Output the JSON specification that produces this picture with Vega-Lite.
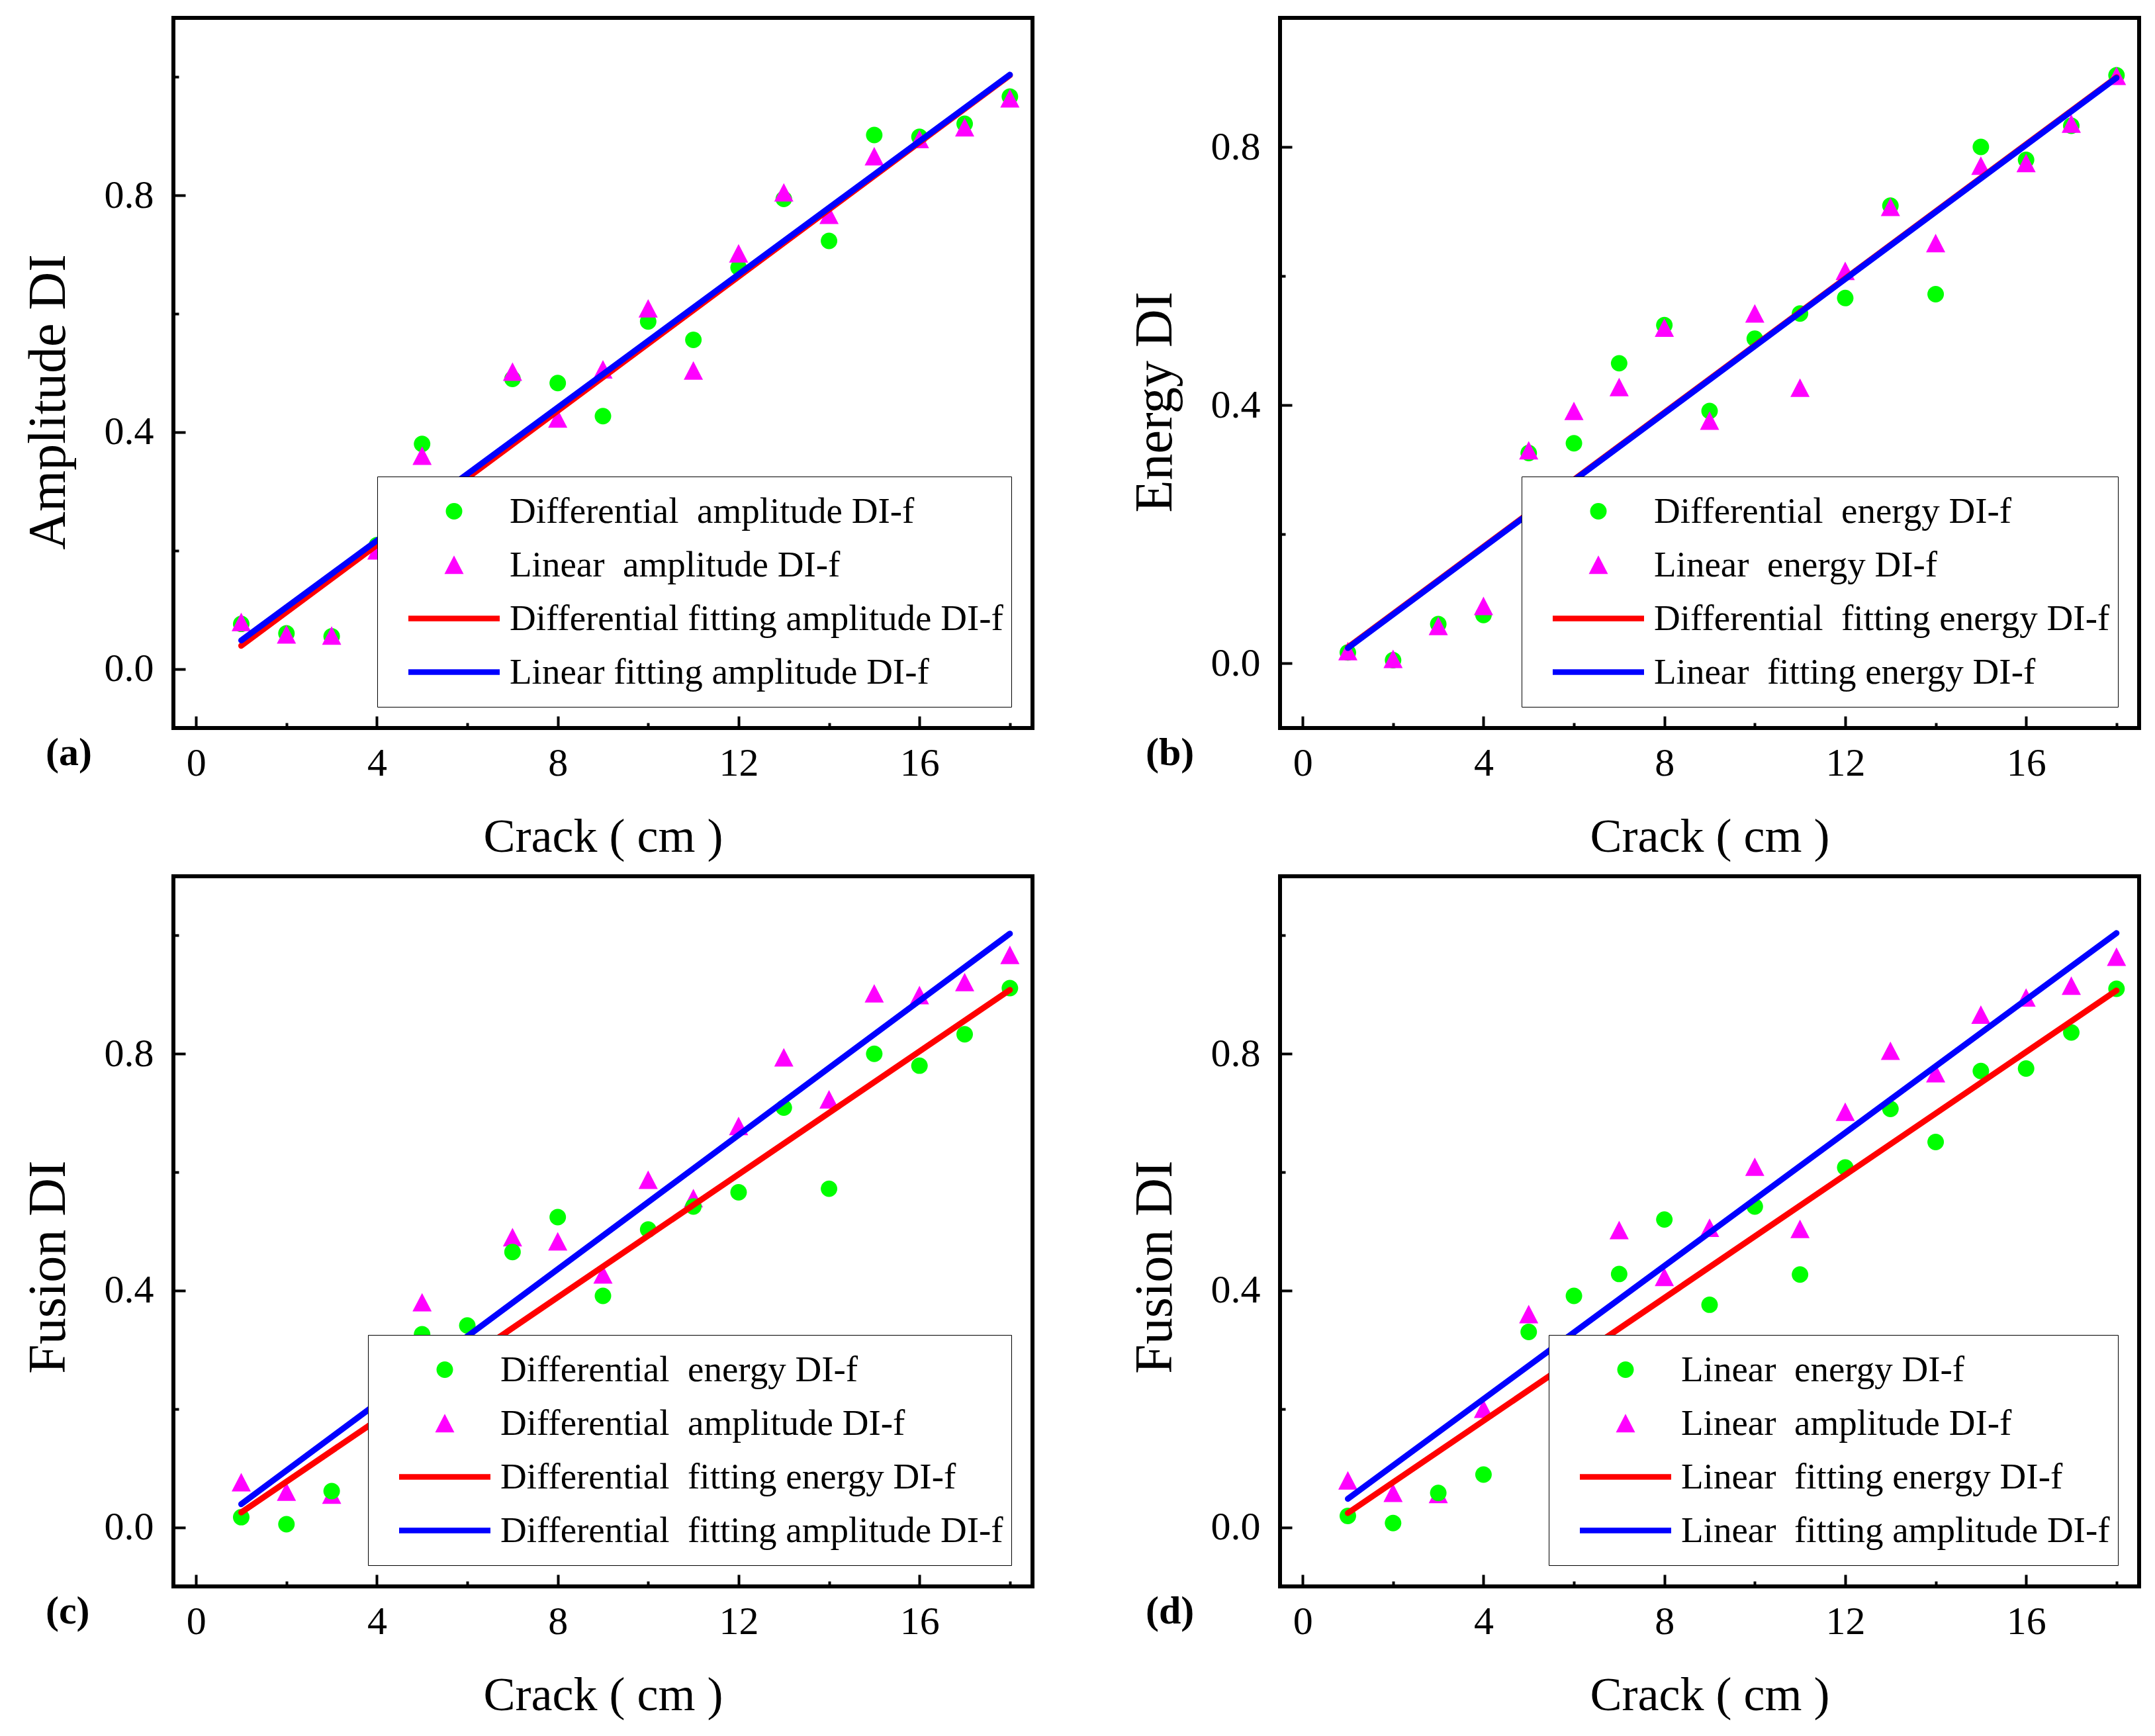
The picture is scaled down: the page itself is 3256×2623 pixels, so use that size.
{
  "$schema": "https://vega.github.io/schema/vega-lite/v6.json",
  "padding": {"left": 30, "top": 24, "right": 10, "bottom": 10},
  "datasets": {
    "pts": [
      {"s": "DA", "crack": 1, "di": 0.076}, {"s": "DA", "crack": 2, "di": 0.06}, {"s": "DA", "crack": 3, "di": 0.055},
      {"s": "DA", "crack": 4, "di": 0.209}, {"s": "DA", "crack": 5, "di": 0.38}, {"s": "DA", "crack": 6, "di": 0.27},
      {"s": "DA", "crack": 7, "di": 0.49}, {"s": "DA", "crack": 8, "di": 0.483}, {"s": "DA", "crack": 9, "di": 0.427},
      {"s": "DA", "crack": 10, "di": 0.587}, {"s": "DA", "crack": 11, "di": 0.556}, {"s": "DA", "crack": 12, "di": 0.678},
      {"s": "DA", "crack": 13, "di": 0.794}, {"s": "DA", "crack": 14, "di": 0.723}, {"s": "DA", "crack": 15, "di": 0.902},
      {"s": "DA", "crack": 16, "di": 0.899}, {"s": "DA", "crack": 17, "di": 0.921}, {"s": "DA", "crack": 18, "di": 0.967},
      {"s": "LA", "crack": 1, "di": 0.079}, {"s": "LA", "crack": 2, "di": 0.058}, {"s": "LA", "crack": 3, "di": 0.056},
      {"s": "LA", "crack": 4, "di": 0.2}, {"s": "LA", "crack": 5, "di": 0.36}, {"s": "LA", "crack": 6, "di": 0.312},
      {"s": "LA", "crack": 7, "di": 0.502}, {"s": "LA", "crack": 8, "di": 0.423}, {"s": "LA", "crack": 9, "di": 0.506},
      {"s": "LA", "crack": 10, "di": 0.609}, {"s": "LA", "crack": 11, "di": 0.504}, {"s": "LA", "crack": 12, "di": 0.702},
      {"s": "LA", "crack": 13, "di": 0.805}, {"s": "LA", "crack": 14, "di": 0.767}, {"s": "LA", "crack": 15, "di": 0.866},
      {"s": "LA", "crack": 16, "di": 0.895}, {"s": "LA", "crack": 17, "di": 0.915}, {"s": "LA", "crack": 18, "di": 0.964},
      {"s": "DE", "crack": 1, "di": 0.017}, {"s": "DE", "crack": 2, "di": 0.005}, {"s": "DE", "crack": 3, "di": 0.061},
      {"s": "DE", "crack": 4, "di": 0.075}, {"s": "DE", "crack": 5, "di": 0.326}, {"s": "DE", "crack": 6, "di": 0.341},
      {"s": "DE", "crack": 7, "di": 0.465}, {"s": "DE", "crack": 8, "di": 0.524}, {"s": "DE", "crack": 9, "di": 0.391},
      {"s": "DE", "crack": 10, "di": 0.503}, {"s": "DE", "crack": 11, "di": 0.542}, {"s": "DE", "crack": 12, "di": 0.566},
      {"s": "DE", "crack": 13, "di": 0.709}, {"s": "DE", "crack": 14, "di": 0.572}, {"s": "DE", "crack": 15, "di": 0.8},
      {"s": "DE", "crack": 16, "di": 0.78}, {"s": "DE", "crack": 17, "di": 0.833}, {"s": "DE", "crack": 18, "di": 0.911},
      {"s": "LE", "crack": 1, "di": 0.019}, {"s": "LE", "crack": 2, "di": 0.007}, {"s": "LE", "crack": 3, "di": 0.058},
      {"s": "LE", "crack": 4, "di": 0.089}, {"s": "LE", "crack": 5, "di": 0.33}, {"s": "LE", "crack": 6, "di": 0.391},
      {"s": "LE", "crack": 7, "di": 0.428}, {"s": "LE", "crack": 8, "di": 0.52}, {"s": "LE", "crack": 9, "di": 0.376},
      {"s": "LE", "crack": 10, "di": 0.542}, {"s": "LE", "crack": 11, "di": 0.427}, {"s": "LE", "crack": 12, "di": 0.608},
      {"s": "LE", "crack": 13, "di": 0.707}, {"s": "LE", "crack": 14, "di": 0.651}, {"s": "LE", "crack": 15, "di": 0.771},
      {"s": "LE", "crack": 16, "di": 0.775}, {"s": "LE", "crack": 17, "di": 0.836}, {"s": "LE", "crack": 18, "di": 0.91}
    ],
    "fits": [
      {"s": "FDA", "crack": 1, "di": 0.039}, {"s": "FDA", "crack": 18, "di": 1.003},
      {"s": "FLA", "crack": 1, "di": 0.048}, {"s": "FLA", "crack": 18, "di": 1.004},
      {"s": "FDE", "crack": 1, "di": 0.025}, {"s": "FDE", "crack": 18, "di": 0.908},
      {"s": "FLE", "crack": 1, "di": 0.024}, {"s": "FLE", "crack": 18, "di": 0.907}
    ]
  },
  "columns": 2,
  "spacing": {"row": 18, "column": 139},
  "resolve": {
    "scale": {"color": "independent", "shape": "independent", "x": "independent", "y": "independent"},
    "legend": {"color": "independent", "shape": "independent"}
  },
  "concat": [
    {
      "width": 1298,
      "height": 1073,
      "title": {"text": "(a)", "dx": -193},
      "resolve": {"axis": {"x": "independent", "y": "independent"}},
      "layer": [
        {
          "data": {"name": "pts"},
          "transform": [{"filter": {"field": "s", "oneOf": ["DA", "LA"]}}],
          "mark": {"type": "point", "filled": true, "opacity": 1, "size": 19044, "strokeWidth": 0},
          "encoding": {
            "x": {"field": "crack", "type": "quantitative", "scale": {"domain": [-0.5, 18.5], "nice": false, "zero": false},
              "axis": {"orient": "bottom", "values": [0, 4, 8, 12, 16], "format": "d", "tickSize": -18, "labelPadding": 42, "title": "Crack ( cm )", "titlePadding": 46}},
            "y": {"field": "di", "type": "quantitative", "scale": {"domain": [-0.1, 1.1], "nice": false, "zero": false},
              "axis": {"orient": "left", "values": [0, 0.4, 0.8], "format": ".1f", "tickSize": -18, "labelPadding": 48, "title": "Amplitude DI", "titlePadding": 43, "titleY": 580}},
            "color": {"field": "s", "type": "nominal",
              "scale": {"domain": ["DA", "LA", "FDA", "FLA"], "range": ["#00ff00", "#ff00ff", "#ff0000", "#0000ff"]},
              "legend": {"labelExpr": "{'DA': 'Differential\u00a0 amplitude DI-f', 'LA': 'Linear\u00a0 amplitude DI-f', 'FDA': 'Differential fitting amplitude DI-f', 'FLA': 'Linear fitting amplitude DI-f'}[datum.label]"}},
            "shape": {"field": "s", "type": "nominal",
              "scale": {"domain": ["DA", "LA", "FDA", "FLA"], "range": [
                "M0.181,0C0.181,0.1,0.1,0.181,0,0.181C-0.1,0.181,-0.181,0.1,-0.181,0C-0.181,-0.1,-0.1,-0.181,0,-0.181C0.1,-0.181,0.181,-0.1,0.181,0Z",
                "M0,-0.205L0.21,0.2L-0.21,0.2Z",
                "M-1,-0.06L1,-0.06L1,0.06L-1,0.06Z",
                "M-1,-0.06L1,-0.06L1,0.06L-1,0.06Z"]}}
          }
        },
        {
          "data": {"name": "fits"},
          "transform": [{"filter": {"field": "s", "oneOf": ["FDA", "FLA"]}}],
          "mark": {"type": "line", "strokeWidth": 9, "strokeCap": "round"},
          "encoding": {
            "x": {"field": "crack", "type": "quantitative", "axis": {"orient": "bottom", "values": [2, 6, 10, 14, 18], "tickSize": -8, "labels": false, "title": null}},
            "y": {"field": "di", "type": "quantitative", "axis": {"orient": "left", "values": [0.2, 0.6, 1.0], "tickSize": -8, "labels": false, "title": null}},
            "color": {"field": "s", "type": "nominal"}
          }
        }
      ]
    },
    {
      "width": 1298,
      "height": 1073,
      "title": {"text": "(b)", "dx": -203},
      "resolve": {"axis": {"x": "independent", "y": "independent"}},
      "layer": [
        {
          "data": {"name": "pts"},
          "transform": [{"filter": {"field": "s", "oneOf": ["DE", "LE"]}}],
          "mark": {"type": "point", "filled": true, "opacity": 1, "size": 19044, "strokeWidth": 0},
          "encoding": {
            "x": {"field": "crack", "type": "quantitative", "scale": {"domain": [-0.5, 18.5], "nice": false, "zero": false},
              "axis": {"orient": "bottom", "values": [0, 4, 8, 12, 16], "format": "d", "tickSize": -18, "labelPadding": 42, "title": "Crack ( cm )", "titlePadding": 46}},
            "y": {"field": "di", "type": "quantitative", "scale": {"domain": [-0.1, 1.0], "nice": false, "zero": false},
              "axis": {"orient": "left", "values": [0, 0.4, 0.8], "format": ".1f", "tickSize": -18, "labelPadding": 48, "title": "Energy DI", "titlePadding": 43, "titleY": 580}},
            "color": {"field": "s", "type": "nominal",
              "scale": {"domain": ["DE", "LE", "FDE", "FLE"], "range": ["#00ff00", "#ff00ff", "#ff0000", "#0000ff"]},
              "legend": {"labelExpr": "{'DE': 'Differential\u00a0 energy DI-f', 'LE': 'Linear\u00a0 energy DI-f', 'FDE': 'Differential\u00a0 fitting energy DI-f', 'FLE': 'Linear\u00a0 fitting energy DI-f'}[datum.label]"}},
            "shape": {"field": "s", "type": "nominal",
              "scale": {"domain": ["DE", "LE", "FDE", "FLE"], "range": [
                "M0.181,0C0.181,0.1,0.1,0.181,0,0.181C-0.1,0.181,-0.181,0.1,-0.181,0C-0.181,-0.1,-0.1,-0.181,0,-0.181C0.1,-0.181,0.181,-0.1,0.181,0Z",
                "M0,-0.205L0.21,0.2L-0.21,0.2Z",
                "M-1,-0.06L1,-0.06L1,0.06L-1,0.06Z",
                "M-1,-0.06L1,-0.06L1,0.06L-1,0.06Z"]}}
          }
        },
        {
          "data": {"name": "fits"},
          "transform": [{"filter": {"field": "s", "oneOf": ["FDE", "FLE"]}}],
          "mark": {"type": "line", "strokeWidth": 9, "strokeCap": "round"},
          "encoding": {
            "x": {"field": "crack", "type": "quantitative", "axis": {"orient": "bottom", "values": [2, 6, 10, 14, 18], "tickSize": -8, "labels": false, "title": null}},
            "y": {"field": "di", "type": "quantitative", "axis": {"orient": "left", "values": [0.2, 0.6], "tickSize": -8, "labels": false, "title": null}},
            "color": {"field": "s", "type": "nominal"}
          }
        }
      ]
    },
    {
      "width": 1298,
      "height": 1073,
      "title": {"text": "(c)", "dx": -193},
      "resolve": {"axis": {"x": "independent", "y": "independent"}},
      "layer": [
        {
          "data": {"name": "pts"},
          "transform": [{"filter": {"field": "s", "oneOf": ["DE", "DA"]}}],
          "mark": {"type": "point", "filled": true, "opacity": 1, "size": 19044, "strokeWidth": 0},
          "encoding": {
            "x": {"field": "crack", "type": "quantitative", "scale": {"domain": [-0.5, 18.5], "nice": false, "zero": false},
              "axis": {"orient": "bottom", "values": [0, 4, 8, 12, 16], "format": "d", "tickSize": -18, "labelPadding": 42, "title": "Crack ( cm )", "titlePadding": 46}},
            "y": {"field": "di", "type": "quantitative", "scale": {"domain": [-0.1, 1.1], "nice": false, "zero": false},
              "axis": {"orient": "left", "values": [0, 0.4, 0.8], "format": ".1f", "tickSize": -18, "labelPadding": 48, "title": "Fusion DI", "titlePadding": 43, "titleY": 590}},
            "color": {"field": "s", "type": "nominal",
              "scale": {"domain": ["DE", "DA", "FDE", "FDA"], "range": ["#00ff00", "#ff00ff", "#ff0000", "#0000ff"]},
              "legend": {"labelExpr": "{'DE': 'Differential\u00a0 energy DI-f', 'DA': 'Differential\u00a0 amplitude DI-f', 'FDE': 'Differential\u00a0 fitting energy DI-f', 'FDA': 'Differential\u00a0 fitting amplitude DI-f'}[datum.label]"}},
            "shape": {"field": "s", "type": "nominal",
              "scale": {"domain": ["DE", "DA", "FDE", "FDA"], "range": [
                "M0.181,0C0.181,0.1,0.1,0.181,0,0.181C-0.1,0.181,-0.181,0.1,-0.181,0C-0.181,-0.1,-0.1,-0.181,0,-0.181C0.1,-0.181,0.181,-0.1,0.181,0Z",
                "M0,-0.205L0.21,0.2L-0.21,0.2Z",
                "M-1,-0.06L1,-0.06L1,0.06L-1,0.06Z",
                "M-1,-0.06L1,-0.06L1,0.06L-1,0.06Z"]}}
          }
        },
        {
          "data": {"name": "fits"},
          "transform": [{"filter": {"field": "s", "oneOf": ["FDE", "FDA"]}}],
          "mark": {"type": "line", "strokeWidth": 9, "strokeCap": "round"},
          "encoding": {
            "x": {"field": "crack", "type": "quantitative", "axis": {"orient": "bottom", "values": [2, 6, 10, 14, 18], "tickSize": -8, "labels": false, "title": null}},
            "y": {"field": "di", "type": "quantitative", "axis": {"orient": "left", "values": [0.2, 0.6, 1.0], "tickSize": -8, "labels": false, "title": null}},
            "color": {"field": "s", "type": "nominal"}
          }
        }
      ]
    },
    {
      "width": 1298,
      "height": 1073,
      "title": {"text": "(d)", "dx": -203},
      "resolve": {"axis": {"x": "independent", "y": "independent"}},
      "layer": [
        {
          "data": {"name": "pts"},
          "transform": [{"filter": {"field": "s", "oneOf": ["LE", "LA"]}}],
          "mark": {"type": "point", "filled": true, "opacity": 1, "size": 19044, "strokeWidth": 0},
          "encoding": {
            "x": {"field": "crack", "type": "quantitative", "scale": {"domain": [-0.5, 18.5], "nice": false, "zero": false},
              "axis": {"orient": "bottom", "values": [0, 4, 8, 12, 16], "format": "d", "tickSize": -18, "labelPadding": 42, "title": "Crack ( cm )", "titlePadding": 46}},
            "y": {"field": "di", "type": "quantitative", "scale": {"domain": [-0.1, 1.1], "nice": false, "zero": false},
              "axis": {"orient": "left", "values": [0, 0.4, 0.8], "format": ".1f", "tickSize": -18, "labelPadding": 48, "title": "Fusion DI", "titlePadding": 43, "titleY": 590}},
            "color": {"field": "s", "type": "nominal",
              "scale": {"domain": ["LE", "LA", "FLE", "FLA"], "range": ["#00ff00", "#ff00ff", "#ff0000", "#0000ff"]},
              "legend": {"labelExpr": "{'LE': 'Linear\u00a0 energy DI-f', 'LA': 'Linear\u00a0 amplitude DI-f', 'FLE': 'Linear\u00a0 fitting energy DI-f', 'FLA': 'Linear\u00a0 fitting amplitude DI-f'}[datum.label]"}},
            "shape": {"field": "s", "type": "nominal",
              "scale": {"domain": ["LE", "LA", "FLE", "FLA"], "range": [
                "M0.181,0C0.181,0.1,0.1,0.181,0,0.181C-0.1,0.181,-0.181,0.1,-0.181,0C-0.181,-0.1,-0.1,-0.181,0,-0.181C0.1,-0.181,0.181,-0.1,0.181,0Z",
                "M0,-0.205L0.21,0.2L-0.21,0.2Z",
                "M-1,-0.06L1,-0.06L1,0.06L-1,0.06Z",
                "M-1,-0.06L1,-0.06L1,0.06L-1,0.06Z"]}}
          }
        },
        {
          "data": {"name": "fits"},
          "transform": [{"filter": {"field": "s", "oneOf": ["FLE", "FLA"]}}],
          "mark": {"type": "line", "strokeWidth": 9, "strokeCap": "round"},
          "encoding": {
            "x": {"field": "crack", "type": "quantitative", "axis": {"orient": "bottom", "values": [2, 6, 10, 14, 18], "tickSize": -8, "labels": false, "title": null}},
            "y": {"field": "di", "type": "quantitative", "axis": {"orient": "left", "values": [0.2, 0.6, 1.0], "tickSize": -8, "labels": false, "title": null}},
            "color": {"field": "s", "type": "nominal"}
          }
        }
      ]
    }
  ],
  "config": {
    "font": "Liberation Serif",
    "view": {"stroke": "black", "strokeWidth": 6},
    "axis": {
      "domain": false, "grid": false, "tickColor": "black", "tickWidth": 4,
      "labelFont": "Liberation Serif", "labelFontSize": 60, "labelColor": "black", "labelOverlap": false, "labelFlush": false,
      "titleFont": "Liberation Serif", "titleFontWeight": "normal", "titleColor": "black"
    },
    "axisX": {"titleFontSize": 72},
    "axisY": {"titleFontSize": 80},
    "legend": {
      "title": null, "orient": "bottom-right", "offset": 32, "padding": 12,
      "strokeColor": "black", "fillColor": "white",
      "symbolSize": 19044, "symbolStrokeWidth": 0, "symbolOpacity": 1, "symbolOffset": 35,
      "clipHeight": 81, "rowPadding": 0, "labelOffset": 15, "labelLimit": 0,
      "labelFont": "Liberation Serif", "labelFontSize": 55, "labelColor": "black", "labelBaseline": "middle"
    },
    "title": {
      "orient": "bottom", "anchor": "start", "frame": "group", "dy": -195, "offset": 0,
      "font": "Liberation Serif", "fontSize": 60, "fontWeight": "bold", "color": "black"
    }
  }
}
